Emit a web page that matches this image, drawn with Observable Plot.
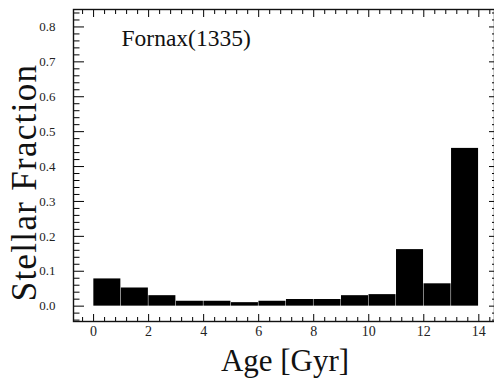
<!DOCTYPE html>
<html>
<head>
<meta charset="utf-8">
<script src="https://cdn.jsdelivr.net/npm/d3@7"></script>
<script src="https://cdn.jsdelivr.net/npm/@observablehq/plot@0.6"></script>
<style>
  html, body { margin: 0; padding: 0; background: #fff; }
  #chart svg { display: block; }
  #chart svg text { font-family: "Liberation Serif", "DejaVu Serif", serif !important; }
</style>
</head>
<body>
<div id="chart"></div>
<script>
// Star-formation history of Fornax: fraction of stars per 1 Gyr age bin
const binStart = [0, 1, 2, 3, 4, 5, 6, 7, 8, 9, 10, 11, 12, 13];
const binEnd   = [1, 2, 3, 4, 5, 6, 7, 8, 9, 10, 11, 12, 13, 14];
const stellarFraction = [0.078, 0.052, 0.030, 0.014, 0.014, 0.010, 0.014,
                         0.019, 0.019, 0.030, 0.033, 0.162, 0.064, 0.452];

const xTickValues = [0, 2, 4, 6, 8, 10, 12, 14];
const xTickLabels = ["0", "2", "4", "6", "8", "10", "12", "14"];
const yTickValues = [0, 0.1, 0.2, 0.3, 0.4, 0.5, 0.6, 0.7, 0.8];
const yTickLabels = ["0.0", "0.1", "0.2", "0.3", "0.4", "0.5", "0.6", "0.7", "0.8"];

const galaxyName = "Fornax(1335)";
const xTitle = "Age [Gyr]";
const yTitle = "Stellar Fraction";

const bins = binStart.map((s, i) => ({start: s, end: binEnd[i], fraction: stellarFraction[i]}));

// minor ticks: every 0.4 Gyr on x, every 0.02 on y
const xMinor = d3.range(-1, 37).filter(i => i % 5 !== 0).map(i => i * 0.4);
const yMinor = d3.range(-2, 43).filter(i => i % 5 !== 0).map(i => i * 0.02);

const serif = "Liberation Serif, serif";

const chart = Plot.plot({
  width: 494,
  height: 382,
  marginLeft: 73,
  marginRight: 0,
  marginTop: 9,
  marginBottom: 61,
  x: {domain: [-0.73, 14.57]},
  y: {domain: [-0.044, 0.85]},
  style: {fontFamily: serif, color: "#000", background: "#fff"},
  marks: [
    Plot.rectY(bins, {x1: "start", x2: "end", y: "fraction", fill: "#000",
                      insetLeft: 0.25, insetRight: 0.25}),

    // inward ticks on all four sides
    Plot.axisY(yTickValues, {anchor: "left", tickSize: -11, text: null, label: null, stroke: "#000"}),
    Plot.axisY(yMinor, {anchor: "left", tickSize: -6.5, text: null, label: null, stroke: "#000"}),
    Plot.axisY(yTickValues, {anchor: "right", tickSize: -6, text: null, label: null, stroke: "#000"}),
    Plot.axisY(yMinor, {anchor: "right", tickSize: -3, text: null, label: null, stroke: "#000"}),
    Plot.axisX(xTickValues, {anchor: "bottom", tickSize: -7, text: null, label: null, stroke: "#000"}),
    Plot.axisX(xMinor, {anchor: "bottom", tickSize: -4, text: null, label: null, stroke: "#000"}),
    Plot.axisX(xTickValues, {anchor: "top", tickSize: -7, text: null, label: null, stroke: "#000"}),
    Plot.axisX(xMinor, {anchor: "top", tickSize: -4, text: null, label: null, stroke: "#000"}),

    // tick labels
    Plot.axisY(yTickValues, {anchor: "left", tickSize: 0, tickPadding: 18, label: null,
      tickFormat: d => yTickLabels[yTickValues.indexOf(d)], fontSize: 13, fill: "#222",
      fontVariant: "normal", fontFamily: serif}),
    Plot.axisX(xTickValues, {anchor: "bottom", tickSize: 0, tickPadding: 5, label: null,
      tickFormat: d => xTickLabels[xTickValues.indexOf(d)], fontSize: 14, fill: "#222",
      fontVariant: "normal", fontFamily: serif}),

    Plot.frame({stroke: "#111", strokeWidth: 1.4}),

    // annotation and axis titles
    Plot.text([galaxyName], {text: d => d, frameAnchor: "top-left", textAnchor: "start",
      lineAnchor: "bottom", dx: 48, dy: 36, fontSize: 23.5, fill: "#111", fontFamily: serif}),
    Plot.text([xTitle], {text: d => d, frameAnchor: "bottom", textAnchor: "middle",
      lineAnchor: "bottom", dx: 1, dy: 49, fontSize: 31, fill: "#111", fontFamily: serif}),
    Plot.text([yTitle], {text: d => d, frameAnchor: "left", textAnchor: "middle", rotate: -90,
      lineAnchor: "bottom", dx: -38, dy: 17, fontSize: 35, fill: "#111", fontFamily: serif})
  ]
});

d3.select(chart).selectAll("text")
  .filter(function () { return this.textContent === yTitle; })
  .style("letter-spacing", "1.3px");

document.getElementById("chart").append(chart);
</script>
</body>
</html>
